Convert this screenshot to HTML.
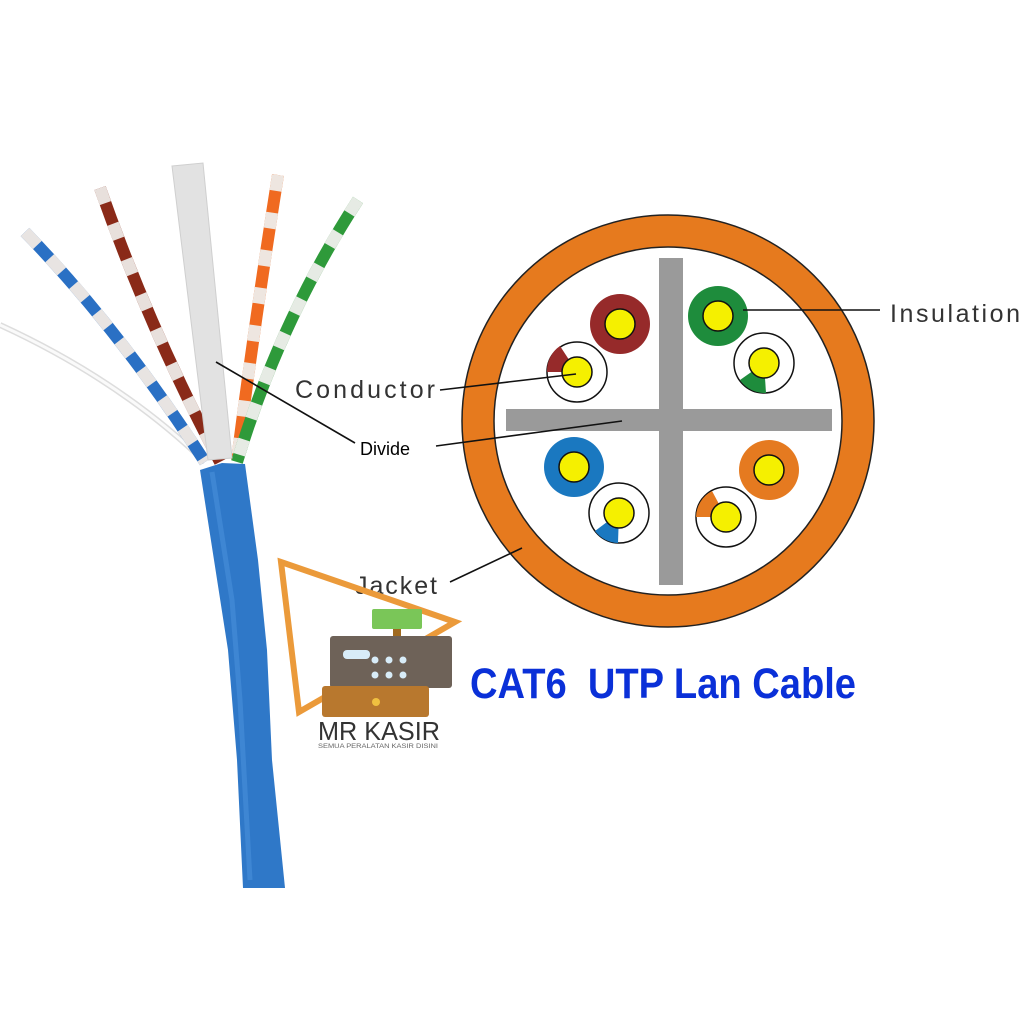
<!DOCTYPE html>
<html><head><meta charset="utf-8"><style>html,body{margin:0;padding:0;background:#fff}svg{display:block}</style></head>
<body>
<svg width="1024" height="1024" viewBox="0 0 1024 1024" xmlns="http://www.w3.org/2000/svg">
<rect width="1024" height="1024" fill="#fff"/>
<!-- wires -->
<path d="M0,325 Q120,380 205,462" stroke="#ddd" stroke-width="6" fill="none"/>
<path d="M0,325 Q120,380 205,462" stroke="#fafafa" stroke-width="3" fill="none"/>
<path d="M25,232 Q120,330 205,462" stroke="#2a70c4" stroke-width="12" fill="none"/>
<path d="M25,232 Q120,330 205,462" stroke="#e8e4e2" stroke-width="12" fill="none" stroke-dasharray="18 18"/>
<path d="M100,188 Q150,330 220,462" stroke="#8a2a18" stroke-width="12" fill="none"/>
<path d="M100,188 Q150,330 220,462" stroke="#e8e0dc" stroke-width="12" fill="none" stroke-dasharray="16 22"/>
<path d="M278,175 Q255,320 237,460" stroke="#f06a20" stroke-width="12" fill="none"/>
<path d="M278,175 Q255,320 237,460" stroke="#eee6e0" stroke-width="12" fill="none" stroke-dasharray="16 22"/>
<path d="M358,200 Q280,320 237,462" stroke="#2e9a3a" stroke-width="12" fill="none"/>
<path d="M358,200 Q280,320 237,462" stroke="#e6ebe4" stroke-width="12" fill="none" stroke-dasharray="16 22"/>
<polygon points="172,166 203,163 232,458 208,460" fill="#e2e2e2" stroke="#cfcfcf"/>
<!-- jacket -->
<polygon points="200,470 222,463 245,464 258,560 267,650 272,760 285,888 243,888 237,760 228,650 214,560" fill="#2f78c8"/>
<path d="M212,472 L232,600 L240,700 L250,880" stroke="#4a90da" stroke-width="5" fill="none" opacity="0.6"/>
<!-- cross-section -->
<circle cx="668" cy="421" r="206" fill="#e67a1e" stroke="#222" stroke-width="1.5"/>
<circle cx="668" cy="421" r="174" fill="#fff" stroke="#222" stroke-width="1.5"/>
<rect x="659" y="258" width="24" height="327" fill="#9a9a9a"/>
<rect x="506" y="409" width="326" height="22" fill="#9a9a9a"/>
<g stroke="#111" stroke-width="1.5">
<circle cx="620" cy="324" r="30" fill="#962a2a" stroke="none"/>
<circle cx="620" cy="324" r="15" fill="#f5f000"/>
<circle cx="718" cy="316" r="30" fill="#1e8c3c" stroke="none"/>
<circle cx="718" cy="316" r="15" fill="#f5f000"/>
<circle cx="574" cy="467" r="30" fill="#1a78c0" stroke="none"/>
<circle cx="574" cy="467" r="15" fill="#f5f000"/>
<circle cx="769" cy="470" r="30" fill="#e57a20" stroke="none"/>
<circle cx="769" cy="470" r="15" fill="#f5f000"/>
<circle cx="577" cy="372" r="30" fill="#fff"/>
<path d="M577,372 L560,346 A30,30 0 0 0 547,372 Z" fill="#962a2a" stroke="none"/>
<circle cx="577" cy="372" r="15" fill="#f5f000"/>
<circle cx="764" cy="363" r="30" fill="#fff"/>
<path d="M764,363 L766,393 A30,30 0 0 1 740,380 Z" fill="#1e8c3c" stroke="none"/>
<circle cx="764" cy="363" r="15" fill="#f5f000"/>
<circle cx="619" cy="513" r="30" fill="#fff"/>
<path d="M619,513 L618,543 A30,30 0 0 1 595,531 Z" fill="#1a78c0" stroke="none"/>
<circle cx="619" cy="513" r="15" fill="#f5f000"/>
<circle cx="726" cy="517" r="30" fill="#fff"/>
<path d="M726,517 L712,491 A30,30 0 0 0 696,517 Z" fill="#e57a20" stroke="none"/>
<circle cx="726" cy="517" r="15" fill="#f5f000"/>
</g>
<!-- leader lines -->
<g stroke="#111" stroke-width="1.6">
<line x1="743" y1="310" x2="880" y2="310"/>
<line x1="440" y1="390" x2="576" y2="374"/>
<line x1="436" y1="446" x2="622" y2="421"/>
<line x1="216" y1="362" x2="355" y2="443"/>
<line x1="450" y1="582" x2="522" y2="548"/>
</g>
<g font-family="Liberation Sans, sans-serif" fill="#333">
<text x="890" y="322" font-size="25" textLength="130" lengthAdjust="spacing">Insulation</text>
<text x="295" y="398" font-size="25" textLength="140" lengthAdjust="spacing">Conductor</text>
<text x="355" y="594" font-size="25" textLength="82" lengthAdjust="spacing">Jacket</text>
<text x="360" y="455" font-size="18" fill="#000">Divide</text>
</g>
<!-- logo -->
<polygon points="281,562 455,622 299,712" fill="none" stroke="#eb9a3a" stroke-width="6"/>
<rect x="372" y="609" width="50" height="20" rx="2" fill="#7ac658"/>
<rect x="393" y="629" width="8" height="10" fill="#a06a20"/>
<rect x="330" y="636" width="122" height="52" rx="3" fill="#6e6258"/>
<rect x="343" y="650" width="27" height="9" rx="4" fill="#d8ecf8"/>
<g fill="#d8ecf8"><circle cx="375" cy="660" r="3.5"/><circle cx="389" cy="660" r="3.5"/><circle cx="403" cy="660" r="3.5"/><circle cx="375" cy="675" r="3.5"/><circle cx="389" cy="675" r="3.5"/><circle cx="403" cy="675" r="3.5"/></g>
<rect x="322" y="686" width="107" height="31" rx="3" fill="#b8782e"/>
<circle cx="376" cy="702" r="4" fill="#f0c040"/>
<text x="318" y="740" font-family="Liberation Sans, sans-serif" font-size="26" fill="#333" textLength="122" lengthAdjust="spacingAndGlyphs">MR KASIR</text>
<text x="318" y="748" font-family="Liberation Sans, sans-serif" font-size="6" fill="#666" textLength="120" lengthAdjust="spacingAndGlyphs">SEMUA PERALATAN KASIR DISINI</text>
<text x="470" y="698" font-family="Liberation Sans, sans-serif" font-weight="bold" font-size="43" fill="#0a30d8" textLength="386" lengthAdjust="spacingAndGlyphs" xml:space="preserve">CAT6  UTP Lan Cable</text>
</svg>
</body></html>
